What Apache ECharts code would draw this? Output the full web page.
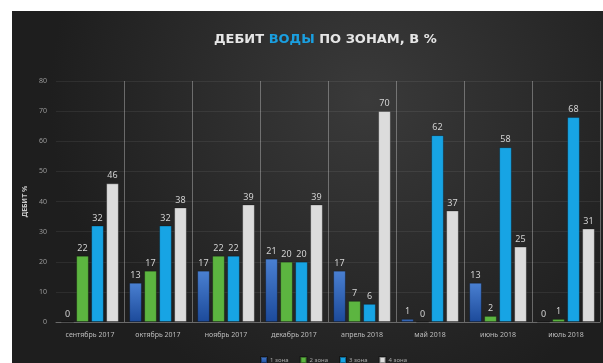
<!DOCTYPE html>
<html>
<head>
<meta charset="utf-8">
<script src="https://cdn.jsdelivr.net/npm/echarts@6/dist/echarts.min.js"></script>
<style>
  html, body { margin: 0; padding: 0; background: #ffffff; width: 603px; height: 363px; overflow: hidden; }
  #chart { position: absolute; left: 12px; top: 11px; width: 591px; height: 352px; }
</style>
</head>
<body>
<div id="chart"></div>
<script>
// Месяцы замеров
const categories = ['сентябрь 2017', 'октябрь 2017', 'ноябрь 2017', 'декабрь 2017',
                    'апрель 2018', 'май 2018', 'июнь 2018', 'июль 2018'];
// Дебит воды по зонам, %
const zone1 = [0, 13, 17, 21, 17, 1, 13, 0];
const zone2 = [22, 17, 22, 20, 7, 0, 2, 1];
const zone3 = [32, 32, 22, 20, 6, 62, 58, 68];
const zone4 = [46, 38, 39, 39, 70, 37, 25, 31];
const zoneNames = ['1 зона', '2 зона', '3 зона', '4 зона'];
const yTicks = { min: 0, max: 80, step: 10 };

const FONT = '"Noto Sans", "DejaVu Sans", sans-serif';
const TITLE_FONT = '"DejaVu Sans", sans-serif';

const chart = echarts.init(document.getElementById('chart'), null, { renderer: 'canvas' });

function barSeries(name, data, color) {
  return {
    name: name,
    type: 'bar',
    data: data,
    barWidth: 12.5,
    barGap: '20%',
    itemStyle: { color: color, borderColor: 'rgba(0,0,0,0.35)', borderWidth: 0.8 },
    label: {
      show: true,
      position: 'top',
      distance: 3,
      color: '#d2d2d2',
      fontSize: 9,
      fontFamily: FONT
    }
  };
}

chart.setOption({
  backgroundColor: {
    type: 'radial', x: 0.6, y: 0.25, r: 0.9,
    colorStops: [
      { offset: 0, color: '#3a3a3a' },
      { offset: 1, color: '#1e1e1e' }
    ]
  },
  title: {
    text: '{a|ДЕБИТ }{b|ВОДЫ}{a| ПО ЗОНАМ, В %}',
    left: 197,
    top: 17,
    textStyle: {
      rich: {
        a: { color: '#e6e6e6', fontSize: 13, fontWeight: 'bold', fontFamily: TITLE_FONT },
        b: { color: '#1a9fe0', fontSize: 13, fontWeight: 'bold', fontFamily: TITLE_FONT }
      }
    }
  },
  legend: {
    data: zoneNames,
    left: 243,
    top: 340,
    itemWidth: 6,
    itemHeight: 6,
    itemGap: 11,
    icon: 'rect',
    textStyle: { color: '#a8a8a8', fontSize: 6, fontFamily: FONT, padding: [0, 0, 0, -2] }
  },
  grid: { left: 44, right: 3, top: 70, bottom: 41, containLabel: false },
  xAxis: {
    type: 'category',
    data: categories,
    axisLine: { show: true, lineStyle: { color: '#6a6a6a', width: 1 } },
    axisTick: { show: false },
    axisLabel: { color: '#bdbdbd', fontSize: 7, margin: 9, fontFamily: FONT, interval: 0 },
    splitLine: {
      show: true,
      interval: function (i) { return i > 0; },
      lineStyle: { color: 'rgba(190,190,190,0.45)', width: 1 }
    }
  },
  yAxis: {
    type: 'value',
    min: yTicks.min,
    max: yTicks.max,
    interval: yTicks.step,
    name: 'ДЕБИТ %',
    nameLocation: 'middle',
    nameRotate: 90,
    nameGap: 28,
    nameTextStyle: { color: '#c8c8c8', fontSize: 7, fontWeight: 'bold', fontFamily: FONT },
    axisLine: { show: false },
    axisTick: { show: false },
    axisLabel: { color: '#9a9a9a', fontSize: 7, margin: 9, fontFamily: FONT },
    splitLine: { show: true, lineStyle: { color: 'rgba(255,255,255,0.07)', width: 1 } }
  },
  series: [
    barSeries(zoneNames[0], zone1, {
      type: 'linear', x: 0, y: 0, x2: 0, y2: 1,
      colorStops: [{ offset: 0, color: '#4a80d2' }, { offset: 1, color: '#1c4a9a' }]
    }),
    barSeries(zoneNames[1], zone2, '#5cb540'),
    barSeries(zoneNames[2], zone3, '#17a4e4'),
    barSeries(zoneNames[3], zone4, '#dcdcdc')
  ]
});
</script>
</body>
</html>
